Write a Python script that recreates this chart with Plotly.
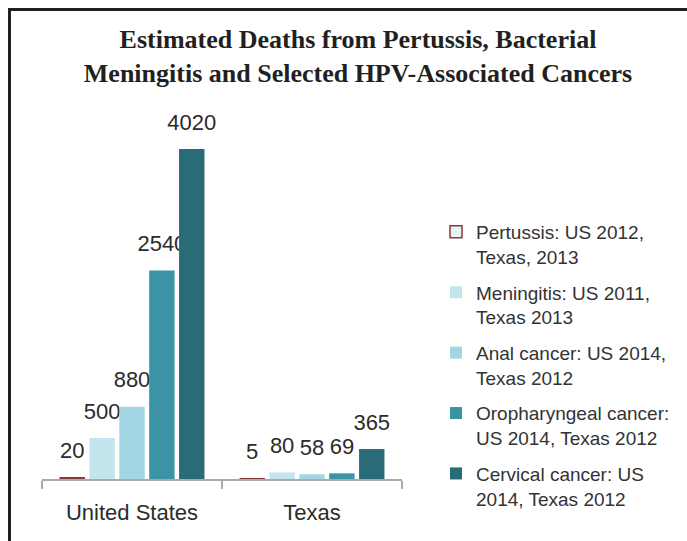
import plotly.graph_objects as go

categories = ["United States", "Texas"]
series_names = [
    "Pertussis: US 2012,<br>Texas, 2013",
    "Meningitis: US 2011,<br>Texas 2013",
    "Anal cancer: US 2014,<br>Texas 2012",
    "Oropharyngeal cancer:<br>US 2014, Texas 2012",
    "Cervical cancer: US<br>2014, Texas 2012",
]
pertussis = [20, 5]
meningitis = [500, 80]
anal = [880, 58]
oropharyngeal = [2540, 69]
cervical = [4020, 365]
series_values = [pertussis, meningitis, anal, oropharyngeal, cervical]
colors = ["#8b3a3a", "#c5e5ee", "#a3d5e3", "#3b93a6", "#2a6b78"]

FONT = "Liberation Sans, Arial, sans-serif"
W, H = 687, 541
ML, MB, MT = 42, 62, 110
plot_w = 360
plot_h = H - MB - MT

fig = go.Figure()

# legend-only entry for Pertussis (hollow square as in reference)
fig.add_trace(go.Scatter(
    x=[categories[0]], y=[None], mode="markers", name=series_names[0],
    marker=dict(symbol="square", size=12, color="#e6f3f7",
                line=dict(color=colors[0], width=1.5)),
    legendgroup="g0", showlegend=True, hoverinfo="skip",
))

for i, (name, vals, col) in enumerate(zip(series_names, series_values, colors)):
    fig.add_trace(go.Bar(
        x=categories, y=vals, name=name,
        marker=dict(color=col, line=dict(width=0)),
        text=[f"<span style='font-size:22px'>{v}</span><br> " for v in vals],
        textposition="outside", constraintext="none", cliponaxis=False,
        textfont=dict(family=FONT, size=11, color="#2b2b2b"),
        legendgroup=f"g{i}", showlegend=(i != 0),
        hoverinfo="skip",
    ))

ymax = cervical[0] * plot_h / 330.0

def px_x(p):
    return (p - ML) / (W - ML)

def px_y(p):
    return (H - MB - p) / plot_h

fig.update_layout(
    width=W, height=H,
    margin=dict(l=ML, r=0, t=MT, b=MB),
    paper_bgcolor="white", plot_bgcolor="white",
    barmode="group", bargap=0.17, bargroupgap=0.15,
    title=dict(
        text="Estimated Deaths from Pertussis, Bacterial<br>Meningitis and Selected HPV-Associated Cancers",
        x=358 / W, xanchor="center",
        y=1 - 48 / H, yanchor="middle",
        font=dict(family="Liberation Serif, Times New Roman, serif", size=26, color="#231f20", weight="bold"),
    ),
    xaxis=dict(
        type="category", categoryorder="array", categoryarray=categories,
        domain=[0, plot_w / (W - ML)],
        showline=True, linecolor="#aaaaaa", linewidth=1.5,
        ticks="outside", tickson="boundaries", ticklen=8, tickcolor="#aaaaaa", tickwidth=1.5,
        tickfont=dict(family=FONT, size=22, color="#2b2b2b"),
        ticklabelstandoff=13,
        showgrid=False,
    ),
    yaxis=dict(range=[0, ymax], visible=False, showgrid=False),
    legend=dict(
        x=px_x(436), xanchor="left", y=px_y(213), yanchor="top",
        font=dict(family=FONT, size=19, color="#333333"),
        valign="top", tracegroupgap=8, traceorder="grouped",
        bgcolor="rgba(0,0,0,0)",
    ),
    showlegend=True,
    shapes=[
        dict(type="line", xref="paper", yref="paper",
             x0=px_x(9), x1=px_x(690), y0=px_y(9.5), y1=px_y(9.5),
             line=dict(color="#231f20", width=3)),
        dict(type="line", xref="paper", yref="paper",
             x0=px_x(9.5), x1=px_x(9.5), y0=px_y(8), y1=px_y(545),
             line=dict(color="#231f20", width=3)),
    ],
)

fig.write_html("out.html", config={"displayModeBar": False},
               post_script="document.body.style.margin='0';document.body.style.overflow='hidden';")
